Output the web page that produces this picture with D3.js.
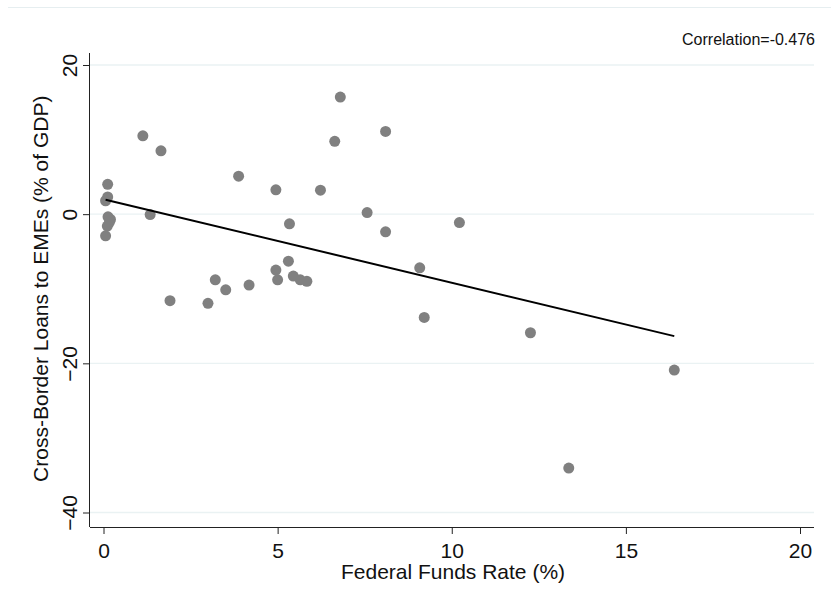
<!DOCTYPE html>
<html>
<head>
<meta charset="utf-8">
<script src="https://cdn.jsdelivr.net/npm/d3@7"></script>
<style>
  html, body { margin: 0; padding: 0; background: #fff; }
  svg { display: block; font-family: "Liberation Sans", Arial, sans-serif; }
</style>
</head>
<body>
<svg id="chart" width="831" height="607"></svg>
<script>
// Federal funds rate (%) and cross-border loans to EMEs (% of GDP)
const fedFunds = [0.12, 0.12, 0.06, 0.13, 0.20, 0.17, 0.11, 0.06,
  1.13, 1.65, 1.34, 1.91, 3.00, 3.21, 3.51, 3.88, 4.18,
  4.95, 4.95, 5.00, 5.31, 5.34, 5.45, 5.65, 5.84,
  6.23, 6.64, 6.80, 7.57, 8.10, 8.10,
  9.08, 9.21, 10.22, 12.26, 16.39, 13.36];
const loans = [4.0, 2.3, 1.8, -0.35, -0.7, -1.1, -1.6, -2.9,
  10.5, 8.5, -0.05, -11.6, -11.95, -8.8, -10.15, 5.1, -9.5,
  3.27, -7.5, -8.8, -6.3, -1.3, -8.3, -8.8, -9.0,
  3.22, 9.76, 15.7, 0.22, 11.1, -2.37,
  -7.2, -13.85, -1.12, -15.9, -20.9, -34.05];
const xTicks = [0, 5, 10, 15, 20];
const yTicks = [-40, -20, 0, 20];
const correlationText = "Correlation=-0.476";
const xTitle = "Federal Funds Rate (%)";
const yTitle = "Cross-Border Loans to EMEs (% of GDP)";

const svg = d3.select("#chart");
const W = 831, H = 607;
const plot = { left: 90, right: 814, top: 53, bottom: 527 };
const FONT = 21;

const x = d3.scaleLinear().domain([0, 20]).range([103.5, 800]);
const y = d3.scaleLinear().domain([-40, 20]).range([512.5, 65]);

// faint outer frame line
svg.append("line")
  .attr("x1", 8).attr("x2", W).attr("y1", 7.5).attr("y2", 7.5)
  .attr("stroke", "#e6eef0").attr("stroke-width", 1);

// horizontal grid lines
svg.append("g").selectAll("line").data(yTicks).join("line")
  .attr("x1", plot.left).attr("x2", plot.right)
  .attr("y1", d => y(d)).attr("y2", d => y(d))
  .attr("stroke", "#eaf2f3").attr("stroke-width", 1.3);

// axes
const xAxis = d3.axisBottom(x).tickValues(xTicks).tickSize(7).tickPadding(9).tickFormat(d3.format("d"));
const gx = svg.append("g").attr("transform", `translate(0,${plot.bottom})`).call(xAxis);
gx.select(".domain").attr("d", `M${plot.left},0.5H${plot.right}`).attr("stroke", "#222");
gx.selectAll(".tick line").attr("stroke", "#222");
gx.selectAll(".tick text").attr("font-size", FONT).attr("fill", "#111")
  .attr("font-family", "Liberation Sans, Arial, sans-serif");

const yAxis = d3.axisLeft(y).tickValues(yTicks).tickSize(7).tickFormat(d3.format("d"));
const gy = svg.append("g").attr("transform", `translate(${plot.left},0)`).call(yAxis);
gy.select(".domain").attr("d", `M-0.5,${plot.top}V${plot.bottom}`).attr("stroke", "#222");
gy.selectAll(".tick line").attr("stroke", "#222");
gy.selectAll(".tick text")
  .attr("font-size", FONT).attr("fill", "#111")
  .attr("font-family", "Liberation Sans, Arial, sans-serif")
  .attr("x", null).attr("dy", null)
  .attr("text-anchor", "middle")
  .attr("transform", "translate(-13,0) rotate(-90)");

// axis titles
svg.append("text")
  .attr("x", 453).attr("y", 579)
  .attr("text-anchor", "middle").attr("font-size", FONT).attr("fill", "#111")
  .text(xTitle);
svg.append("text")
  .attr("transform", `translate(48,${(y(20) + y(-40)) / 2}) rotate(-90)`)
  .attr("text-anchor", "middle").attr("font-size", FONT).attr("fill", "#111")
  .text(yTitle);

// correlation note
svg.append("text")
  .attr("x", 815).attr("y", 45)
  .attr("text-anchor", "end").attr("font-size", 16).attr("fill", "#111")
  .text(correlationText);

// data points
const pts = fedFunds.map((v, i) => ({ x: v, y: loans[i] }));
svg.append("g").selectAll("circle").data(pts).join("circle")
  .attr("cx", d => x(d.x)).attr("cy", d => y(d.y))
  .attr("r", 5.5).attr("fill", "#808080");

// least-squares fit across the observed range
const mx = d3.mean(fedFunds), my = d3.mean(loans);
const sxy = d3.sum(pts, d => (d.x - mx) * (d.y - my));
const sxx = d3.sum(pts, d => (d.x - mx) ** 2);
const slope = sxy / sxx, intercept = my - slope * mx;
const [xmin, xmax] = d3.extent(fedFunds);
svg.append("line")
  .attr("x1", x(xmin)).attr("y1", y(intercept + slope * xmin))
  .attr("x2", x(xmax)).attr("y2", y(intercept + slope * xmax))
  .attr("stroke", "#000").attr("stroke-width", 2);
</script>
</body>
</html>
